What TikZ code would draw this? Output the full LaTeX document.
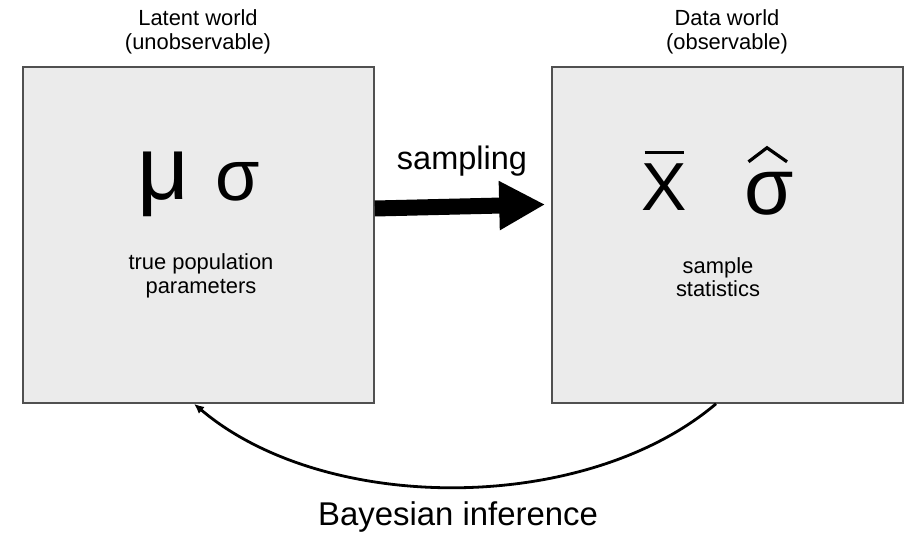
\documentclass[tikz,border=0pt]{standalone}
\usepackage{fontspec}
\setmainfont{Liberation Sans}
\usetikzlibrary{arrows.meta}
\definecolor{boxfill}{RGB}{235,235,235}
\definecolor{boxline}{RGB}{80,80,80}
\begin{document}
\begin{tikzpicture}[x=1pt,y=1pt,
  world/.style={draw=boxline, fill=boxfill, line width=1.6pt, minimum width=351pt, minimum height=336pt, inner sep=0pt},
  caption/.style={font=\fontsize{21.9}{23.5}\selectfont, align=center, inner sep=0pt},
  sym/.style={inner sep=0pt},
  bigarrow/.style={line width=16pt, -{Triangle[length=46pt,width=46pt]}},
  inference/.style={line width=2.8pt, -{Latex[length=10pt,width=9pt]}},
  accent/.style={line width=3.2pt}]
\useasboundingbox (0,0) rectangle (909,533);
\node[world] (latent) at (198.5,298) {};
\node[world] (data) at (727.5,298) {};
\node[caption] (lt) at (198,501) {Latent world\\(unobservable)};
\node[caption] (dt) at (727,501) {Data world\\(observable)};
\node[caption] (tp) at (201,257) {true population\\parameters};
\node[caption] (ss) at (718,256) {sample\\statistics};
\node[sym, font=\fontsize{90}{90}\selectfont] (mu) at (163.5,349) {μ};
\node[sym, font=\fontsize{72}{72}\selectfont] (sig) at (237.5,351.5) {σ};
\node[sym, font=\fontsize{68}{68}\selectfont] (xbar) at (664.5,346) {X};
\node[sym, font=\fontsize{80}{80}\selectfont] (sighat) at (769.5,339.5) {σ};
\draw[accent] ([xshift=3pt,yshift=11pt]xbar.north west) -- ([xshift=-3pt,yshift=11pt]xbar.north east);
\draw[accent, line join=miter] ([xshift=-21pt,yshift=10pt]sighat.north) -- ([xshift=-2.5pt,yshift=24pt]sighat.north) -- ([xshift=17.5pt,yshift=10pt]sighat.north);
\node[sym, font=\fontsize{32.5}{32.5}\selectfont] (samp) at (462,371.5) {sampling};
\node[sym, font=\fontsize{32.9}{32.9}\selectfont] (bayes) at (458,16) {Bayesian inference};
\coordinate (a0) at ([yshift=26.5pt]latent.east);
\coordinate (a1) at ([xshift=-6pt,yshift=30.5pt]data.west);
\draw[bigarrow] (a0) -- (a1);
\coordinate (b0) at ([xshift=-11.5pt]data.south);
\coordinate (b1) at ([xshift=-4.5pt]latent.south);
\draw[inference] (b0) .. controls +(-131,-111) and +(131,-111) .. (b1);
\end{tikzpicture}
\end{document}
